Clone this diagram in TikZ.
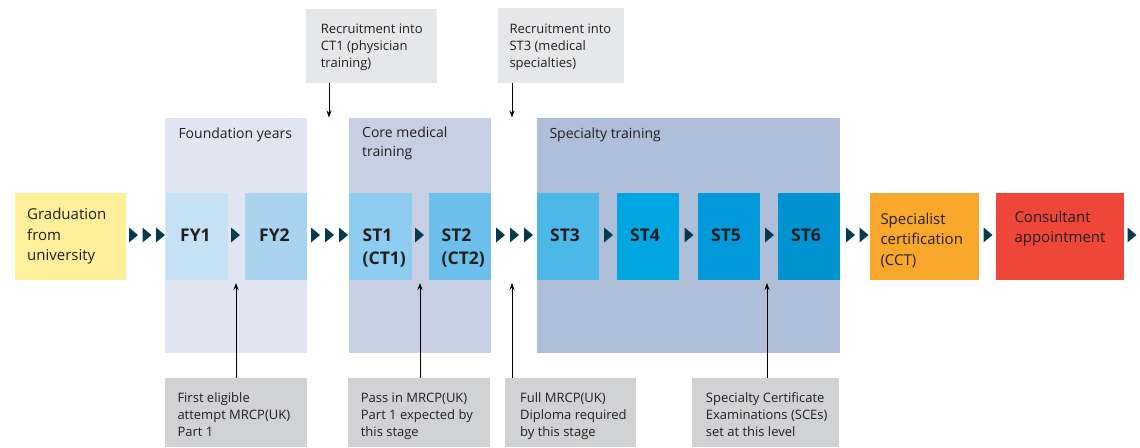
\documentclass[tikz,border=0pt]{standalone}
\usepackage{fontspec}
\setmainfont{Open Sans}
\usetikzlibrary{arrows.meta,calc}
\definecolor{txtc}{HTML}{231F20}
\definecolor{gradc}{HTML}{FEF09B}
\definecolor{fbg}{HTML}{E2E6F2}
\definecolor{fyone}{HTML}{C5E2F5}
\definecolor{fytwo}{HTML}{A8D4F0}
\definecolor{cbg}{HTML}{C6CFE4}
\definecolor{stone}{HTML}{8ECDEF}
\definecolor{sttwo}{HTML}{6CC0EB}
\definecolor{sbg}{HTML}{AFBED9}
\definecolor{stthree}{HTML}{4BB8E7}
\definecolor{stfour}{HTML}{00A6E0}
\definecolor{stfive}{HTML}{0099D9}
\definecolor{stsix}{HTML}{0093D2}
\definecolor{cctc}{HTML}{F9A82B}
\definecolor{consc}{HTML}{EE4639}
\definecolor{tric}{HTML}{003B4F}
\definecolor{notetop}{HTML}{E6E7E8}
\definecolor{notebot}{HTML}{D1D2D4}
\begin{document}
\begin{tikzpicture}[x=1pt,y=-1pt,
  box/.style={draw=none,inner sep=0pt,anchor=north west,minimum height=87pt},
  bg/.style={draw=none,inner sep=0pt,anchor=north west,minimum height=235pt},
  lbl/.style={anchor=north west,inner sep=0pt,align=left,text=txtc},
  big/.style={lbl,font=\fontsize{15}{20.5}\selectfont},
  stl/.style={lbl,font=\bfseries\fontsize{17.5}{23}\selectfont},
  note/.style={lbl,font=\fontsize{13}{17}\selectfont},
  head/.style={lbl,font=\fontsize{14}{19}\selectfont},
  arr/.style={-{Stealth[length=7pt,width=5pt]},line width=1pt,draw=black},
  tri/.pic={\fill[tric] (0,-7.5) -- (9,0) -- (0,7.5) -- cycle;}
]
\useasboundingbox (0,0) rectangle (1140,447);
\fill[white] (0,0) rectangle (1140,447);

% background stage panels
\node[bg,fill=fbg,minimum width=142pt] (fnd) at (165,118) {};
\node[bg,fill=cbg,minimum width=142pt] (core) at (349,118) {};
\node[bg,fill=sbg,minimum width=303pt] (spec) at (537,118) {};
\node[head] (fndT) at (178.3,127.7) {Foundation years};
\node[head] (coreT) at (362,126.7) {Core medical\\training};
\node[head] (specT) at (549.3,127.7) {Specialty training};

% main boxes
\node[box,fill=gradc,minimum width=111pt] (grad) at (15,193) {};
\node[big] (gradT) at (27,208) {Graduation\\from\\university};
\node[box,fill=fyone,minimum width=62pt] (fy1) at (166,193) {};
\node[box,fill=fytwo,minimum width=62pt] (fy2) at (245,193) {};
\node[box,fill=stone,minimum width=63pt] (st1) at (349,193) {};
\node[box,fill=sttwo,minimum width=62pt] (st2) at (429,193) {};
\node[box,fill=stthree,minimum width=62pt] (st3) at (537,193) {};
\node[box,fill=stfour,minimum width=62pt] (st4) at (617,193) {};
\node[box,fill=stfive,minimum width=62pt] (st5) at (698,193) {};
\node[box,fill=stsix,minimum width=62pt] (st6) at (778,193) {};
\node[box,fill=cctc,minimum width=109pt] (cct) at (870,193) {};
\node[box,fill=consc,minimum width=128pt] (cons) at (996,193) {};

\node[stl] (fy1T) at (180,229) {FY1};
\node[stl] (fy2T) at (259,229) {FY2};
\node[stl] (st1T) at (362.5,229) {ST1\\(CT1)};
\node[stl] (st2T) at (441.5,229) {ST2\\(CT2)};
\node[stl] (st3T) at (550,229) {ST3};
\node[stl] (st4T) at (630,229) {ST4};
\node[stl] (st5T) at (711,229) {ST5};
\node[stl] (st6T) at (791,229) {ST6};
\node[big] (cctT) at (880.3,212.7) {Specialist\\certification\\(CCT)};
\node[big] (consT) at (1014.3,210.7) {Consultant\\appointment};

% chevrons
\foreach \x in {129,142.5,156} \pic at (\x,235) {tri};
\pic at (231,235) {tri};
\foreach \x in {311,325,339} \pic at (\x,235) {tri};
\pic at (415,235) {tri};
\foreach \x in {496,510,524} \pic at (\x,235) {tri};
\pic at (604,235) {tri};
\pic at (684.5,235) {tri};
\pic at (765,235) {tri};
\foreach \x in {846,859.5} \pic at (\x,235) {tri};
\pic at (983.5,235) {tri};
\pic at (1127.5,235) {tri};

% top notes
\node[box,fill=notetop,minimum width=131pt,minimum height=74pt] (rc1) at (306,9) {};
\node[note] (rc1T) at (320.7,24) {Recruitment into\\CT1 (physician\\training)};
\node[box,fill=notetop,minimum width=126pt,minimum height=75pt] (rc3) at (498,8) {};
\node[note] (rc3T) at (509.3,24) {Recruitment into\\ST3 (medical\\specialties)};

% bottom notes
\node[box,fill=notebot,minimum width=142pt,minimum height=69pt] (n1) at (165,378) {};
\node[note] (n1T) at (177.3,392.3) {First eligible\\attempt MRCP(UK)\\Part 1};
\node[box,fill=notebot,minimum width=142pt,minimum height=69pt] (n2) at (348,378) {};
\node[note] (n2T) at (360.7,392.3) {Pass in MRCP(UK)\\Part 1 expected by\\this stage};
\node[box,fill=notebot,minimum width=131pt,minimum height=69pt] (n3) at (505,378) {};
\node[note] (n3T) at (520,392.3) {Full MRCP(UK)\\Diploma required\\by this stage};
\node[box,fill=notebot,minimum width=147pt,minimum height=69pt] (n4) at (692,378) {};
\node[note] (n4T) at (705.7,392.3) {Specialty Certificate\\Examinations (SCEs)\\set at this level};

% vertical arrows
\coordinate (t1) at (329,117.5);
\coordinate (t3) at (512,117.5);
\draw[arr] (rc1.south -| t1) -- (t1);
\draw[arr] (rc3.south -| t3) -- (t3);
\coordinate (b1) at (236,283);
\coordinate (b2) at (420,283);
\coordinate (b3) at (512,283);
\coordinate (b4) at (767,283);
\draw[arr] (n1.north -| b1) -- (b1);
\draw[arr] (n2.north -| b2) -- (b2);
\draw[arr] (n3.north -| b3) -- (b3);
\draw[arr] (n4.north -| b4) -- (b4);
\end{tikzpicture}
\end{document}
